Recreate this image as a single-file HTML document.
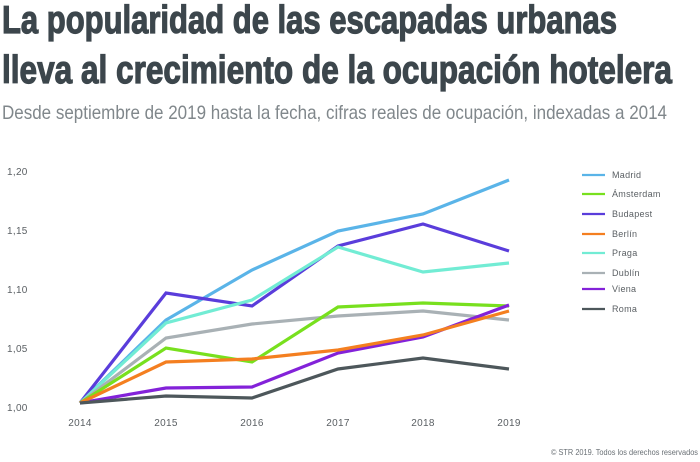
<!DOCTYPE html>
<html>
<head>
<meta charset="utf-8">
<style>
html,body{margin:0;padding:0;background:#fff;}
svg{display:block;}
</style>
</head>
<body>
<svg width="700" height="462" viewBox="0 0 700 462" xmlns="http://www.w3.org/2000/svg">
<rect width="700" height="462" fill="#fff"/>
<g font-family="'Liberation Sans', sans-serif">
<text x="2" y="33" font-size="39" font-weight="bold" fill="#3c464c" stroke="#3c464c" stroke-width="1.2" textLength="615" lengthAdjust="spacingAndGlyphs">La popularidad de las escapadas urbanas</text>
<text x="2" y="83" font-size="39" font-weight="bold" fill="#3c464c" stroke="#3c464c" stroke-width="1.2" textLength="670" lengthAdjust="spacingAndGlyphs">lleva al crecimiento de la ocupación hotelera</text>
<text x="2" y="119" font-size="19.5" fill="#80878b" textLength="665" lengthAdjust="spacingAndGlyphs">Desde septiembre de 2019 hasta la fecha, cifras reales de ocupación, indexadas a 2014</text>

<g font-size="10" fill="#5a5f63" letter-spacing="0.3">
<text x="7" y="175">1,20</text>
<text x="7" y="234">1,15</text>
<text x="7" y="293">1,10</text>
<text x="7" y="352">1,05</text>
<text x="7" y="411">1,00</text>
</g>
<g font-size="10" fill="#5a5f63" text-anchor="middle" letter-spacing="0.3">
<text x="80" y="426">2014</text>
<text x="166" y="426">2015</text>
<text x="252" y="426">2016</text>
<text x="338" y="426">2017</text>
<text x="423" y="426">2018</text>
<text x="509" y="426">2019</text>
</g>

<g fill="none" stroke-width="3.2" stroke-linejoin="miter">
<polyline stroke="#5ab4e8" points="80,403 166,320 252,270 338,231 423,214 509,180"/>
<polyline stroke="#5a3ddb" points="80,403 166,293 252,306 338,246 423,224 509,251"/>
<polyline stroke="#72ecd4" points="80,403 166,323 252,300 338,247 423,272 509,263"/>
<polyline stroke="#a9b1b5" points="80,403 166,338 252,324 338,316 423,311 509,320"/>
<polyline stroke="#78e01e" points="80,403 166,348 252,362 338,307 423,303 509,306"/>
<polyline stroke="#8322d9" points="80,403 166,388 252,387 338,353 423,337 509,305"/>
<polyline stroke="#f47f20" points="80,403 166,362 252,359 338,350 423,335 509,311"/>
<polyline stroke="#4d575b" points="80,403 166,396 252,398 338,369 423,358 509,369"/>
</g>

<g stroke-width="2.2">
<line x1="582" y1="175" x2="605" y2="175" stroke="#5ab4e8"/>
<line x1="582" y1="194" x2="605" y2="194" stroke="#78e01e"/>
<line x1="582" y1="214" x2="605" y2="214" stroke="#5a3ddb"/>
<line x1="582" y1="234" x2="605" y2="234" stroke="#f47f20"/>
<line x1="582" y1="253" x2="605" y2="253" stroke="#72ecd4"/>
<line x1="582" y1="273" x2="605" y2="273" stroke="#a9b1b5"/>
<line x1="582" y1="289" x2="605" y2="289" stroke="#8322d9"/>
<line x1="582" y1="309" x2="605" y2="309" stroke="#4d575b"/>
</g>
<g font-size="9" fill="#5a5f63" letter-spacing="0.3">
<text x="612" y="178">Madrid</text>
<text x="612" y="197">Ámsterdam</text>
<text x="612" y="217">Budapest</text>
<text x="612" y="237">Berlín</text>
<text x="612" y="256">Praga</text>
<text x="612" y="276">Dublín</text>
<text x="612" y="292">Viena</text>
<text x="612" y="312">Roma</text>
</g>

<text x="551" y="455" font-size="8" fill="#6a7075" textLength="147" lengthAdjust="spacingAndGlyphs">© STR 2019. Todos los derechos reservados</text>
</g>
</svg>
</body>
</html>
